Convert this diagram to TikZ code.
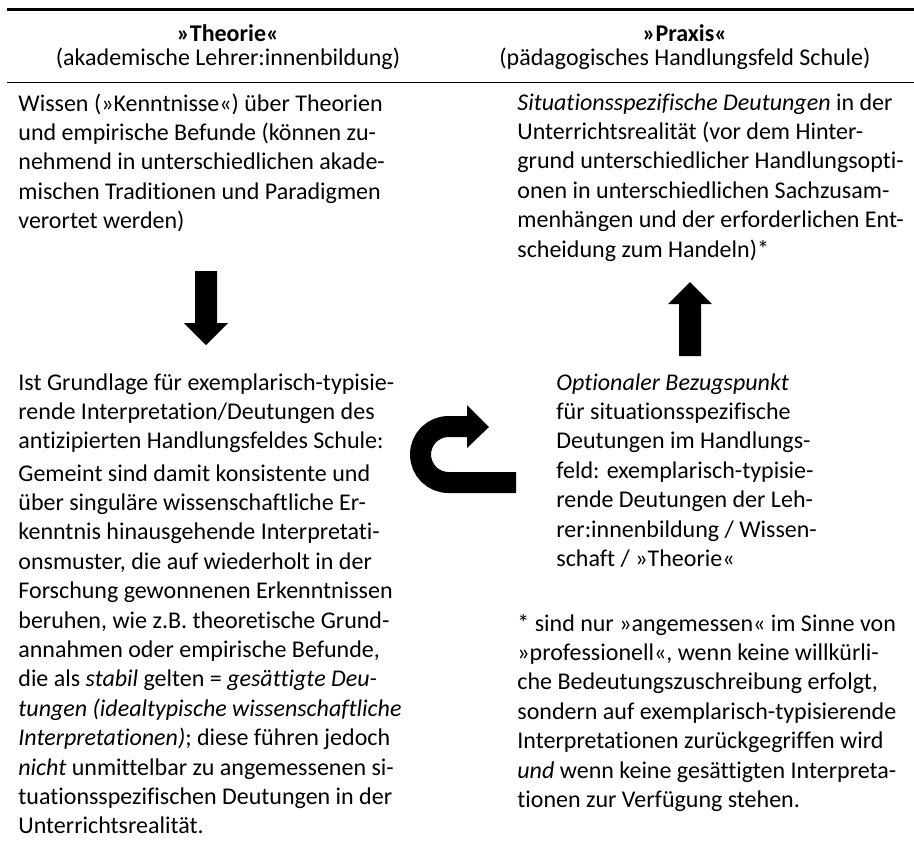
\documentclass[tikz,border=0pt]{standalone}
\usepackage{fontspec}
\setmainfont{Carlito}[Ligatures=NoCommon]
\usepackage{tikz}
\tikzset{
  zeile/.style = {anchor=base west, inner sep=0pt, font=\fontsize{12}{14.7}\selectfont},
  kopf/.style = {anchor=base, inner sep=0pt, font=\fontsize{12}{14.7}\selectfont},
  pfeil/.style = {fill=black, draw=none}
}
\newcommand{\zab}{29.4}

\begin{document}
\begin{tikzpicture}
  [x = .5pt, y = -.5pt]
  \useasboundingbox (0,0) rectangle (914,848);
  % Linien oben
  \coordinate (oben l) at (7,9);
  \coordinate (oben r) at (914,9);
  \coordinate (mitte l) at (7,82);
  \coordinate (mitte r) at (914,82);
  \draw[line width = 1.5pt] (oben l) -- (oben r);
  \draw[line width = .5pt] (mitte l) -- (mitte r);
  % Kopfzeile
  \node[kopf] (theorie) at (228,41) {\textbf{»Theorie«}};
  \node[kopf] (theorie2) at (228,65) {(akademische Lehrer:innenbildung)};
  \node[kopf] (praxis) at (685,41) {\textbf{»Praxis«}};
  \node[kopf] (praxis2) at (685,65) {(pädagogisches Handlungsfeld Schule)};
  % linke Spalte
  \foreach \txt [count=\i] in {{Wissen (»Kenntnisse«) über Theorien},
    {und empirische Befunde (können zu-},
    {nehmend in unterschiedlichen akade-},
    {mischen Traditionen und Paradigmen},
    {verortet werden)}}{
    \node[zeile] (wissen\i) at (18, 111+\zab*\i-\zab) {\txt};
  }
  \foreach \txt [count=\i] in {{Ist Grundlage für exemplarisch-typisie-},
    {rende Interpretation/Deutungen des},
    {antizipierten Handlungsfeldes Schule:}}{
    \node[zeile] (grundlage\i) at (18, 390+\zab*\i-\zab) {\txt};
  }
  \foreach \txt [count=\i] in {{Gemeint sind damit konsistente und},
    {über singuläre wissenschaftliche Er-},
    {kenntnis hinausgehende Interpretati-},
    {onsmuster, die auf wiederholt in der},
    {Forschung gewonnenen Erkenntnissen},
    {beruhen, wie z.B. theoretische Grund-},
    {annahmen oder empirische Befunde,},
    {die als \textit{stabil} gelten = \textit{gesättigte Deu-}},
    {\textit{tungen (idealtypische wissenschaftliche}},
    {\textit{Interpretationen)}; diese führen jedoch},
    {\textit{nicht} unmittelbar zu angemessenen si-},
    {tuationsspezifischen Deutungen in der},
    {Unterrichtsrealität.}}{
    \node[zeile] (gemeint\i) at (18, 481+\zab*\i-\zab) {\txt};
  }
  % rechte Spalte
  \foreach \txt [count=\i] in {{\textit{Situationsspezifische Deutungen} in der},
    {Unterrichtsrealität (vor dem Hinter-},
    {grund unterschiedlicher Handlungsopti-},
    {onen in unterschiedlichen Sachzusam-},
    {menhängen und der erforderlichen Ent-},
    {scheidung zum Handeln)*}}{
    \node[zeile] (deutung\i) at (517, 110+\zab*\i-\zab) {\txt};
  }
  \foreach \txt [count=\i] in {{\textit{Optionaler Bezugspunkt}},
    {für situationsspezifische},
    {Deutungen im Handlungs-},
    {feld: exemplarisch-typisie-},
    {rende Deutungen der Leh-},
    {rer:innenbildung / Wissen-},
    {schaft / »Theorie«}}{
    \node[zeile] (bezug\i) at (556, 390+\zab*\i-\zab) {\txt};
  }
  \foreach \txt [count=\i] in {{* sind nur »angemessen« im Sinne von},
    {»professionell«, wenn keine willkürli-},
    {che Bedeutungszuschreibung erfolgt,},
    {sondern auf exemplarisch-typisierende},
    {Interpretationen zurückgegriffen wird},
    {\textit{und} wenn keine gesättigten Interpreta-},
    {tionen zur Verfügung stehen.}}{
    \node[zeile] (fussnote\i) at (517, 631+\zab*\i-\zab) {\txt};
  }
  % Pfeile
  \fill[pfeil] (195,271) -- (217,271) -- (217,323) -- (228,323) -- (206,345)
    -- (184,323) -- (195,323) -- cycle;
  \fill[pfeil] (679,356) -- (701,356) -- (701,304) -- (712,304) -- (690,282)
    -- (668,304) -- (679,304) -- cycle;
  \draw[line width = 10.5pt] (516,482.5) -- (448.5,482.5)
    arc[start angle=270, end angle=90, radius=14pt] -- (468,426.5);
  \fill[pfeil] (467,405) -- (489,427) -- (467,448) -- cycle;
\end{tikzpicture}
\end{document}
